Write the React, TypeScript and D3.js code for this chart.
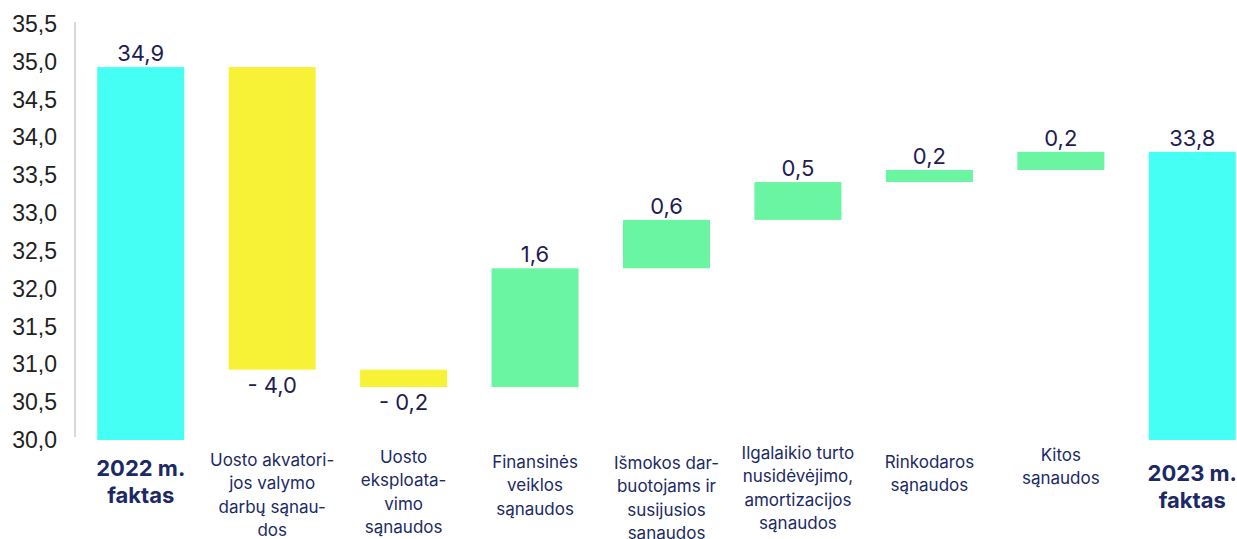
import React from "react";
import * as d3 from "d3";

const categories = [
  "2022 m. faktas",
  "Uosto akvatorijos valymo darbų sąnaudos",
  "Uosto eksploatavimo sąnaudos",
  "Finansinės veiklos sąnaudos",
  "Išmokos darbuotojams ir susijusios sąnaudos",
  "Ilgalaikio turto nusidėvėjimo, amortizacijos sąnaudos",
  "Rinkodaros sąnaudos",
  "Kitos sąnaudos",
  "2023 m. faktas",
];
const categoryLines: string[][] = [
  ["2022 m.", "faktas"],
  ["Uosto akvatori-", "jos valymo", "darbų sąnau-", "dos"],
  ["Uosto", "eksploata-", "vimo", "sąnaudos"],
  ["Finansinės", "veiklos", "sąnaudos"],
  ["Išmokos dar-", "buotojams ir", "susijusios", "sąnaudos"],
  ["Ilgalaikio turto", "nusidėvėjimo,", "amortizacijos", "sąnaudos"],
  ["Rinkodaros", "sąnaudos"],
  ["Kitos", "sąnaudos"],
  ["2023 m.", "faktas"],
];
const startValue = 34.93;
const changes = [-4.0, -0.23, 1.57, 0.64, 0.5, 0.16, 0.24];
const yTicks = [30, 30.5, 31, 31.5, 32, 32.5, 33, 33.5, 34, 34.5, 35, 35.5];

// layout (not data)
const W = 1237;
const H = 539;
const labelFirstLineY = [468, 460, 457, 462, 463, 453, 462, 455, 473];

const COLORS = { total: "#45FFF4", neg: "#F7F236", pos: "#6AF5A2" };

type Bar = { cat: string; y0: number; y1: number; kind: "total" | "neg" | "pos"; label: string };

const fmt = (v: number) => {
  const s = Math.abs(v).toFixed(1).replace(".", ",");
  return v < 0 ? "- " + s : s;
};

export default function App() {
  const bars: Bar[] = [];
  bars.push({ cat: categories[0], y0: 30, y1: startValue, kind: "total", label: fmt(startValue) });
  let cum = startValue;
  changes.forEach((c, i) => {
    const next = cum + c;
    bars.push({ cat: categories[i + 1], y0: cum, y1: next, kind: c < 0 ? "neg" : "pos", label: fmt(c) });
    cum = next;
  });
  bars.push({ cat: categories[8], y0: 30, y1: cum, kind: "total", label: fmt(cum) });

  const x = d3.scaleBand<string>().domain(categories).range([75, 1258]).paddingInner(0.338).paddingOuter(0.169);
  const y = d3.scaleLinear().domain([30, 35.5]).range([440, 24]);

  return (
    <svg width={W} height={H} style={{ position: "absolute", left: 0, top: 0, background: "#fff" }}>
      <line x1={75} x2={75} y1={22} y2={437} stroke="#d9d9d9" strokeWidth={2} />
      {yTicks.map((t) => (
        <text
          key={t}
          x={57}
          y={y(t)}
          textAnchor="end"
          dominantBaseline="central"
          fontFamily="'Liberation Sans', Arial, sans-serif"
          fontSize={23}
          fill="#222"
        >
          {t.toFixed(1).replace(".", ",")}
        </text>
      ))}
      {bars.map((b, i) => {
        const top = y(Math.max(b.y0, b.y1));
        const bot = y(Math.min(b.y0, b.y1));
        const cx = (x(b.cat) as number) + x.bandwidth() / 2;
        const below = b.kind === "neg";
        return (
          <g key={i}>
            <rect x={x(b.cat)} y={top} width={x.bandwidth()} height={bot - top} fill={COLORS[b.kind]} />
            <text
              x={cx}
              y={below ? bot + 23 : top - 6}
              textAnchor="middle"
              fontFamily="Inter, 'Noto Sans', sans-serif"
              fontSize={22}
              fill="#211C52"
            >
              {b.label}
            </text>
          </g>
        );
      })}
      {categoryLines.map((lines, i) => {
        const bold = i === 0 || i === 8;
        const cx = (x(categories[i]) as number) + x.bandwidth() / 2;
        const lh = bold ? 27 : 23.3;
        return (
          <text
            key={i}
            textAnchor="middle"
            fontFamily="Inter, 'Noto Sans', sans-serif"
            fontSize={bold ? 22 : 17}
            fontWeight={bold ? 700 : 400}
            fill="#1B2A66"
          >
            {lines.map((ln, j) => (
              <tspan key={j} x={cx} y={labelFirstLineY[i] + j * lh} dominantBaseline="central">
                {ln}
              </tspan>
            ))}
          </text>
        );
      })}
    </svg>
  );
}
